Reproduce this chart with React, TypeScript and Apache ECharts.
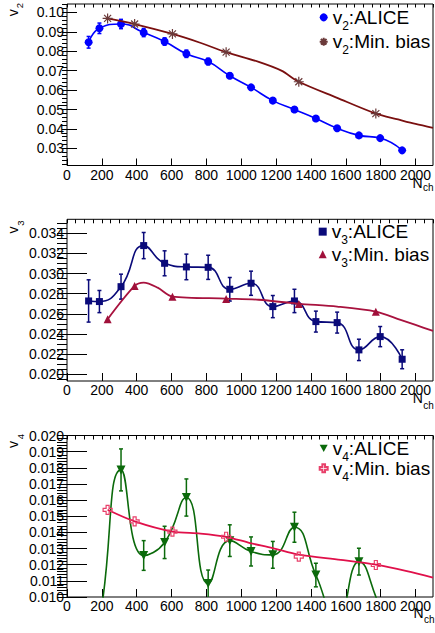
import React, { useEffect, useRef } from "react";
import * as echarts from "echarts";

const FONT = "'Liberation Sans', Arial, Helvetica, sans-serif";

// ALICE multiplicity bins (N_ch)
const nchAlice = [124, 186, 310, 440, 560, 685, 810, 934, 1056, 1181, 1305, 1428, 1550, 1675, 1797, 1923];

const v2Alice = [0.0846, 0.0918, 0.094, 0.0896, 0.085, 0.0787, 0.0747, 0.0674, 0.0614, 0.0546, 0.05, 0.0454, 0.0404, 0.0367, 0.0353, 0.029];
const v2AliceErr = [0.003, 0.0027, 0.0024, 0.0021, 0.0019, 0.0019, 0.0017, 0.0013, 0.0011, 0.001, 0.0009, 0.0009, 0.0008, 0.0008, 0.0008, 0.0008];

const v3Alice = [0.02728, 0.02722, 0.0287, 0.03278, 0.03102, 0.03066, 0.03062, 0.02844, 0.02904, 0.02672, 0.02728, 0.02523, 0.02513, 0.02242, 0.02374, 0.02149];
const v3AliceErr = [0.0021, 0.0011, 0.00124, 0.0013, 0.00124, 0.00127, 0.0012, 0.00117, 0.0012, 0.0011, 0.00116, 0.00104, 0.00104, 0.00106, 0.001, 0.00094];

const v4Alice = [0.007, 0.0085, 0.01787, 0.01257, 0.01338, 0.01616, 0.01083, 0.01349, 0.01282, 0.01261, 0.01432, 0.01136, 0.0085, 0.01219, 0.0094, 0.007];
const v4AliceErr = [0.001, 0.001, 0.0013, 0.00092, 0.001, 0.00115, 0.00084, 0.00098, 0.0009, 0.00083, 0.00093, 0.00073, 0.0008, 0.00083, 0.0005, 0.0005];

// Min. bias model: marker points
const nchMinBias = [233, 388, 605, 913, 1330, 1772];
const v2MinBias = [0.0969, 0.094, 0.0889, 0.0795, 0.0643, 0.0479];
const v3MinBias = [0.02546, 0.02877, 0.02771, 0.02748, 0.02698, 0.02622];
const v4MinBias = [0.0154, 0.01468, 0.01405, 0.01373, 0.0125, 0.01198];

// Min. bias model: continuous curves
const v2CurveNch = [233, 388, 605, 760, 913, 1100, 1230, 1330, 1550, 1772, 1900, 2000, 2100];
const v2Curve = [0.0969, 0.094, 0.0889, 0.0845, 0.0795, 0.0745, 0.07, 0.0643, 0.056, 0.0479, 0.0449, 0.0426, 0.0406];
const v3CurveNch = [233, 388, 440, 520, 605, 913, 1100, 1330, 1550, 1772, 1914, 2000, 2100];
const v3Curve = [0.02546, 0.02877, 0.0291, 0.0286, 0.02771, 0.02752, 0.0274, 0.027, 0.02672, 0.02622, 0.0254, 0.0249, 0.0243];
const v4CurveNch = [233, 388, 605, 766, 913, 1050, 1180, 1330, 1571, 1772, 1950, 2100];
const v4Curve = [0.0154, 0.01468, 0.01405, 0.01393, 0.01373, 0.01334, 0.01303, 0.01262, 0.0123, 0.012, 0.0116, 0.0112];

// Axis tick labels
const nchTicks = [0, 200, 400, 600, 800, 1000, 1200, 1400, 1600, 1800, 2000];
const v2Ticks = [0.03, 0.04, 0.05, 0.06, 0.07, 0.08, 0.09, 0.1];
const v3Ticks = [0.02, 0.022, 0.024, 0.026, 0.028, 0.03, 0.032, 0.034];
const v4Ticks = [0.01, 0.011, 0.012, 0.013, 0.014, 0.015, 0.016, 0.017, 0.018, 0.019, 0.02];

const STAR = "path://M5,0L5,10M0,5L10,5M1.5,1.5L8.5,8.5M1.5,8.5L8.5,1.5";
const OPEN_CROSS = "path://M3,0L6,0L6,3L9,3L9,6L6,6L6,9L3,9L3,6L0,6L0,3L3,3Z";
const TRI_DOWN = "path://M0,0L10,0L5,9Z";

function stepTicks(lo: number, hi: number, step: number): number[] {
  const out: number[] = [];
  const k0 = Math.ceil(lo / step - 1e-9);
  for (let k = k0; k * step <= hi + 1e-12; k++) out.push(+(k * step).toFixed(6));
  return out;
}

const pairs = (xs: number[], ys: number[]) => xs.map((x, i) => [x, ys[i]]);

interface PanelCfg {
  grid: { left: number; top: number; width: number; height: number };
  yMin: number;
  yMax: number;
  yTicks: number[];
  yMinorStep: number;
  yDigits: number;
  yMajorLen: number;
  yMinorLen: number;
  xMajorLen: number;
  xMinorLen: number;
  alice: number[];
  aliceErr: number[];
  aliceColor: string;
  aliceSymbol: string;
  aliceSize: number;
  minBias: number[];
  curveNch: number[];
  curve: number[];
  mbLineColor: string;
  mbColor: string;
  mbSymbol: string;
  mbSize: number;
  mbFill: string;
  mbBorder: number;
  harmonic: string;
  legendTop: number;
  legendGap: number;
}

const panels: PanelCfg[] = [
  {
    grid: { left: 67, top: 4, width: 366, height: 161.5 },
    yMin: 0.0212, yMax: 0.1043, yTicks: v2Ticks, yMinorStep: 0.002, yDigits: 2,
    yMajorLen: 10, yMinorLen: 5, xMajorLen: 7, xMinorLen: 3.5,
    alice: v2Alice, aliceErr: v2AliceErr, aliceColor: "#0000ff", aliceSymbol: "circle", aliceSize: 8,
    minBias: v2MinBias, curveNch: v2CurveNch, curve: v2Curve,
    mbLineColor: "#7a1010", mbColor: "#6b3a3a", mbSymbol: STAR, mbSize: 10, mbFill: "rgba(0,0,0,0)", mbBorder: 1.2,
    harmonic: "2", legendTop: 2.85, legendGap: -4.7,
  },
  {
    grid: { left: 67, top: 219.3, width: 366, height: 161.7 },
    yMin: 0.01933, yMax: 0.03539, yTicks: v3Ticks, yMinorStep: 0.0005, yDigits: 3,
    yMajorLen: 20, yMinorLen: 10, xMajorLen: 8, xMinorLen: 4,
    alice: v3Alice, aliceErr: v3AliceErr, aliceColor: "#0a0a7a", aliceSymbol: "rect", aliceSize: 7,
    minBias: v3MinBias, curveNch: v3CurveNch, curve: v3Curve,
    mbLineColor: "#a8123e", mbColor: "#a0103a", mbSymbol: "triangle", mbSize: 8, mbFill: "#a0103a", mbBorder: 0,
    harmonic: "3", legendTop: 217.15, legendGap: -6.3,
  },
  {
    grid: { left: 67, top: 435.5, width: 366, height: 161.5 },
    yMin: 0.01, yMax: 0.02, yTicks: v4Ticks, yMinorStep: 0.0002, yDigits: 3,
    yMajorLen: 20, yMinorLen: 10, xMajorLen: 8, xMinorLen: 4,
    alice: v4Alice, aliceErr: v4AliceErr, aliceColor: "#0b6a0b", aliceSymbol: TRI_DOWN, aliceSize: 9,
    minBias: v4MinBias, curveNch: v4CurveNch, curve: v4Curve,
    mbLineColor: "#e0104a", mbColor: "#e8406a", mbSymbol: OPEN_CROSS, mbSize: 9, mbFill: "rgba(255,255,255,0)", mbBorder: 1.2,
    harmonic: "4", legendTop: 433.85, legendGap: -9,
  },
];

const X_MAX = 2100;

function buildOption() {
  const grid: any[] = [];
  const xAxis: any[] = [];
  const yAxis: any[] = [];
  const series: any[] = [];
  const legend: any[] = [];
  const graphic: any[] = [];

  panels.forEach((p, i) => {
    grid.push({ ...p.grid, show: true, borderColor: "#000", borderWidth: 1, backgroundColor: "#fff", containLabel: false, outerBoundsMode: "none" });

    const hiddenLine = { show: false };
    // major x axis
    xAxis.push({
      type: "value", gridIndex: i, min: 0, max: X_MAX,
      axisLine: hiddenLine, splitLine: { show: false },
      axisTick: { show: true, inside: true, length: p.xMajorLen, customValues: nchTicks, lineStyle: { color: "#000", width: 1 } },
      axisLabel: { show: true, customValues: nchTicks, margin: 2, color: "#000", fontSize: 14, fontFamily: FONT, formatter: (v: number) => String(v) },
    });
    // minor x ticks
    xAxis.push({
      type: "value", gridIndex: i, min: 0, max: X_MAX,
      axisLine: hiddenLine, splitLine: { show: false }, axisLabel: { show: false },
      axisTick: { show: true, inside: true, length: p.xMinorLen, customValues: stepTicks(0, X_MAX, 50), lineStyle: { color: "#000", width: 1 } },
    });
    // major y axis
    yAxis.push({
      type: "value", gridIndex: i, min: p.yMin, max: p.yMax,
      axisLine: hiddenLine, splitLine: { show: false },
      axisTick: { show: true, inside: true, length: p.yMajorLen, customValues: p.yTicks, lineStyle: { color: "#000", width: 1 } },
      axisLabel: { show: true, customValues: p.yTicks, margin: 3, color: "#000", fontSize: 14, fontFamily: FONT, formatter: (v: number) => v.toFixed(p.yDigits) },
    });
    // minor y ticks
    yAxis.push({
      type: "value", gridIndex: i, min: p.yMin, max: p.yMax,
      axisLine: hiddenLine, splitLine: { show: false }, axisLabel: { show: false },
      axisTick: { show: true, inside: true, length: p.yMinorLen, customValues: stepTicks(p.yMin, p.yMax, p.yMinorStep), lineStyle: { color: "#000", width: 1 } },
    });

    const xi = 2 * i;
    const yi = 2 * i;
    const aliceName = `v${p.harmonic}:ALICE`;
    const mbName = `v${p.harmonic}:Min. bias`;

    // ALICE smooth connecting curve
    series.push({
      type: "line", name: `${aliceName} curve`, xAxisIndex: xi, yAxisIndex: yi,
      data: pairs(nchAlice, p.alice), smooth: 0.5, symbol: "none", clip: true, z: 2, silent: true,
      lineStyle: { color: p.aliceColor, width: 1.6 },
    });
    // ALICE error bars
    const yMin = p.yMin, yMax = p.yMax, col = p.aliceColor;
    series.push({
      type: "custom", name: `${aliceName} err`, xAxisIndex: xi, yAxisIndex: yi, silent: true, z: 3,
      data: nchAlice.map((n, k) => [n, p.alice[k], p.aliceErr[k]]),
      encode: { x: 0, y: 1 },
      renderItem: (_params: any, api: any) => {
        const x = api.value(0), y = api.value(1), e = api.value(2);
        const hi = Math.min(y + e, yMax);
        const lo = Math.max(y - e, yMin);
        if (lo >= hi) return null;
        const a = api.coord([x, hi]);
        const b = api.coord([x, lo]);
        const st = { stroke: col, lineWidth: 1.5 };
        const children: any[] = [{ type: "line", shape: { x1: a[0], y1: a[1], x2: b[0], y2: b[1] }, style: st }];
        if (y + e <= yMax) children.push({ type: "line", shape: { x1: a[0] - 2, y1: a[1], x2: a[0] + 2, y2: a[1] }, style: st });
        if (y - e >= yMin) children.push({ type: "line", shape: { x1: b[0] - 2, y1: b[1], x2: b[0] + 2, y2: b[1] }, style: st });
        return { type: "group", children };
      },
    });
    // ALICE markers
    series.push({
      type: "scatter", name: aliceName, xAxisIndex: xi, yAxisIndex: yi, z: 4, clip: true,
      data: pairs(nchAlice, p.alice), symbol: p.aliceSymbol, symbolSize: p.aliceSize,
      itemStyle: { color: p.aliceColor, opacity: 1 },
    });
    // Min. bias curve
    series.push({
      type: "line", name: `${mbName} curve`, xAxisIndex: xi, yAxisIndex: yi,
      data: pairs(p.curveNch, p.curve), smooth: 0.3, symbol: "none", clip: true, z: 5, silent: true,
      lineStyle: { color: p.mbLineColor, width: 1.8 },
    });
    // Min. bias markers
    series.push({
      type: "scatter", name: mbName, xAxisIndex: xi, yAxisIndex: yi, z: 6, clip: true,
      data: pairs(nchMinBias, p.minBias), symbol: p.mbSymbol, symbolSize: p.mbSize,
      itemStyle: { color: p.mbFill, borderColor: p.mbColor, borderWidth: p.mbBorder, opacity: 1 },
    });

    const richText = {
      m: { fontSize: 19, lineHeight: 22, fontFamily: FONT, color: "#000" },
      s: { fontSize: 12, lineHeight: 12, padding: [17, 0, 0, 0], fontFamily: FONT, color: "#000" },
    };
    legend.push({
      show: true, orient: "vertical", left: 318.7, top: p.legendTop, padding: 0,
      itemGap: p.legendGap, itemWidth: 8, itemHeight: 8, selectedMode: false,
      data: [aliceName, mbName],
      formatter: (name: string) => {
        const rest = name.slice(2);
        return `{m|v}{s|${p.harmonic}}{m|${rest}}`;
      },
      textStyle: { rich: richText, fontFamily: FONT, fontSize: 19, color: "#000" },
    });
  });

  // axis titles
  const yTitles = [
    { v: [12.5, 12.7], s: [19.7, 5.5], t: "2" },
    { v: [12.5, 230], s: [20, 223], t: "3" },
    { v: [12.5, 444.5], s: [20, 436.5], t: "4" },
  ];
  yTitles.forEach((t) => {
    graphic.push({
      type: "text", x: t.v[0], y: t.v[1], rotation: Math.PI / 2, silent: true,
      style: { text: "v", fontSize: 14, fontFamily: FONT, fill: "#000", align: "center", verticalAlign: "middle" },
    });
    graphic.push({
      type: "text", x: t.s[0], y: t.s[1], rotation: Math.PI / 2, silent: true,
      style: { text: t.t, fontSize: 9.5, fontFamily: FONT, fill: "#000", align: "center", verticalAlign: "middle" },
    });
  });
  // N_ch titles: "N" right-aligned, subscript left-aligned right after it
  const xTitles = [
    { n: [422.5, 183.3], c: [423, 187.5] },
    { n: [422.8, 398.3], c: [423.3, 405] },
    { n: [423.5, 613], c: [424, 619] },
  ];
  xTitles.forEach((t) => {
    graphic.push({
      type: "text", x: t.n[0], y: t.n[1], silent: true,
      style: { text: "N", fontSize: 14, fontFamily: FONT, fill: "#000", align: "right", verticalAlign: "middle" },
    });
    graphic.push({
      type: "text", x: t.c[0], y: t.c[1], silent: true,
      style: { text: "ch", fontSize: 10, fontFamily: FONT, fill: "#000", align: "left", verticalAlign: "middle" },
    });
  });

  return {
    animation: false,
    backgroundColor: "#fff",
    textStyle: { fontFamily: FONT },
    grid, xAxis, yAxis, series, legend, graphic,
  };
}

export default function App() {
  const ref = useRef<HTMLDivElement>(null);
  useEffect(() => {
    if (!ref.current) return;
    const chart = echarts.init(ref.current, undefined, { renderer: "svg" });
    chart.setOption(buildOption() as any);
    return () => chart.dispose();
  }, []);
  return (
    <div
      ref={ref}
      style={{ position: "fixed", left: 0, top: 0, width: 435, height: 633, background: "#fff" }}
    />
  );
}
